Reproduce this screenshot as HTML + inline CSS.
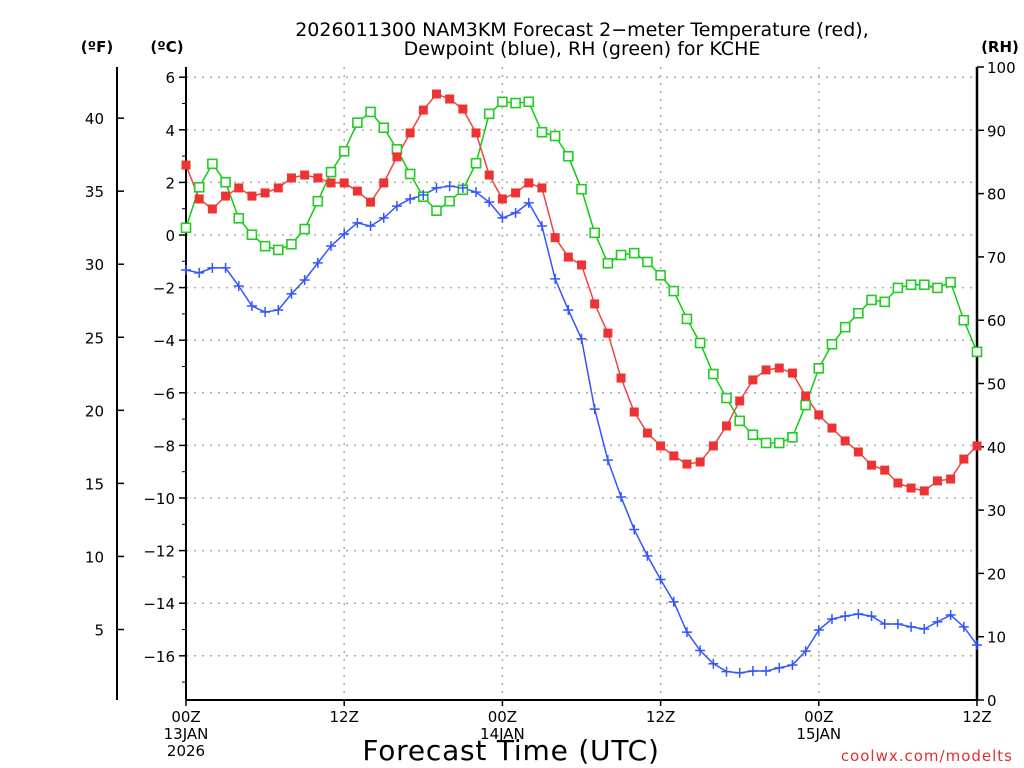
<!DOCTYPE html>
<html><head><meta charset="utf-8"><style>
html,body{margin:0;padding:0;background:#fff}
svg{display:block}
text{font-family:"DejaVu Sans","Liberation Sans",sans-serif;fill:#000}
</style></head><body>
<svg id="chart" width="1024" height="768" viewBox="0 0 1024 768" xmlns="http://www.w3.org/2000/svg">
<g id="grid"></g>
<g id="axes"></g>
<g id="series"></g>
<text x="582" y="36" text-anchor="middle" font-size="19">2026011300 NAM3KM Forecast 2−meter Temperature (red),</text>
<text x="582" y="55" text-anchor="middle" font-size="19">Dewpoint (blue), RH (green) for KCHE</text>
<text x="97" y="52" text-anchor="middle" font-size="15" font-weight="bold">(ºF)</text>
<text x="167" y="52" text-anchor="middle" font-size="15" font-weight="bold">(ºC)</text>
<text x="1000" y="52" text-anchor="middle" font-size="15" font-weight="bold">(RH)</text>
<text x="511" y="760" text-anchor="middle" font-size="28" letter-spacing="0.8">Forecast Time (UTC)</text>
<text x="1013" y="761" text-anchor="end" font-size="15" fill="#e03030" style="fill:#e03030" letter-spacing="1">coolwx.com/modelts</text>
</svg>
<script>
const hours = [];
for (let i = 0; i <= 60; i++) hours.push(i);
const tempC = [2.66,1.37,0.99,1.48,1.79,1.48,1.6,1.79,2.17,2.28,2.17,1.98,1.98,1.67,1.25,1.98,2.97,3.88,4.75,5.36,5.17,4.79,3.88,2.28,1.37,1.6,1.98,1.79,-0.1,-0.84,-1.14,-2.62,-3.73,-5.44,-6.73,-7.53,-8.02,-8.4,-8.71,-8.63,-8.02,-7.26,-6.31,-5.51,-5.13,-5.06,-5.25,-6.12,-6.84,-7.34,-7.83,-8.25,-8.75,-8.94,-9.43,-9.62,-9.73,-9.35,-9.28,-8.52,-8.02];
const dewC = [-1.33,-1.44,-1.25,-1.25,-1.94,-2.7,-2.93,-2.85,-2.24,-1.71,-1.06,-0.42,0.04,0.46,0.34,0.65,1.1,1.37,1.52,1.79,1.86,1.79,1.63,1.25,0.65,0.84,1.22,0.34,-1.67,-2.85,-3.95,-6.62,-8.56,-9.96,-11.2,-12.2,-13.1,-13.95,-15.1,-15.8,-16.3,-16.6,-16.65,-16.58,-16.58,-16.46,-16.35,-15.82,-15.02,-14.6,-14.49,-14.41,-14.49,-14.79,-14.79,-14.9,-14.98,-14.71,-14.45,-14.9,-15.59];
const rh = [74.6,81,84.7,81.8,76.1,73.5,71.7,71.1,72,74.4,78.8,83.4,86.7,91.2,92.9,90.4,87,83.1,79.5,77.3,78.8,80.6,84.8,92.6,94.5,94.3,94.5,89.7,89.1,85.9,80.7,73.8,69,70.3,70.6,69.2,67.1,64.6,60.2,56.4,51.5,47.7,44.1,41.9,40.6,40.6,41.5,46.6,52.4,56.2,58.9,61.1,63.2,62.9,65.1,65.6,65.6,65.1,66,60,55];
const cTicks = [6,4,2,0,-2,-4,-6,-8,-10,-12,-14,-16];
const fTicks = [40,35,30,25,20,15,10,5];
const rhTicks = [0,10,20,30,40,50,60,70,80,90,100];
const xTickHours = [0,12,24,36,48,60];
const xTickLabels = [["00Z","13JAN","2026"],["12Z"],["00Z","14JAN"],["12Z"],["00Z","15JAN"],["12Z"]];

const X0=186, X1=977, YT=67, YB=700;
const xS = h => X0 + (h/60)*(X1-X0);
const yC = c => 235 - c*26.3;
const yF = f => yC((f-32)*5/9);
const yR = r => YB - r*(YB-YT)/100;
const NS='http://www.w3.org/2000/svg';
function mk(tag, attrs, parent){const e=document.createElementNS(NS,tag);for(const k in attrs)e.setAttribute(k,attrs[k]);parent.appendChild(e);return e;}
const grid=document.getElementById('grid'), axes=document.getElementById('axes'), series=document.getElementById('series');

cTicks.forEach(c=>{
  const l=mk('line',{x1:X0,x2:X1,y1:yC(c),y2:yC(c),stroke:'#aaa','stroke-width':1.5,'stroke-dasharray':'2,6'},grid);
  
  
  const t=mk('line',{x1:X0-7,x2:X0,y1:yC(c),y2:yC(c),stroke:'#000','stroke-width':1.5},axes);
  
  
  const tx=mk('text',{x:X0-11,y:yC(c)+6,'text-anchor':'end','font-size':15},axes);
  
  
  tx.textContent=(c<0?'−':'')+Math.abs(c);
});
for(let c=-17;c<=6;c++){ if(c%2===0) continue;
  const t=mk('line',{x1:X0-4,x2:X0,y1:yC(c),y2:yC(c),stroke:'#000','stroke-width':1},axes);
  
  
}
xTickHours.forEach((h,i)=>{
  if(h>0&&h<60){const l=mk('line',{x1:xS(h),x2:xS(h),y1:YT,y2:YB,stroke:'#aaa','stroke-width':1.5,'stroke-dasharray':'2,6'},grid);
  
  }
  const t=mk('line',{x1:xS(h),x2:xS(h),y1:YB,y2:YB+6,stroke:'#000','stroke-width':1.5},axes);
  
  
  xTickLabels[i].forEach((s,j)=>{
    const tx=mk('text',{x:xS(h),y:YB+22+j*17,'text-anchor':'middle','font-size':15},axes);
    
    
    tx.textContent=s;
  });
});
fTicks.forEach(f=>{
  const t=mk('line',{x1:117,x2:124,y1:yF(f),y2:yF(f),stroke:'#000','stroke-width':1.5},axes);
  
  
  const tx=mk('text',{x:104,y:yF(f)+6,'text-anchor':'end','font-size':15},axes);
  
  
  tx.textContent=f;
});
rhTicks.forEach(r=>{
  const t=mk('line',{x1:X1,x2:X1+7,y1:yR(r),y2:yR(r),stroke:'#000','stroke-width':1.5},axes);
  
  
  const tx=mk('text',{x:X1+10,y:yR(r)+6,'font-size':15},axes);
  
  
  tx.textContent=r;
});
[[117,YT,117,YB,2],[X0,YT,X0,YB,2],[X0,YB,X1,YB,2],[X1,YT,X1,YB,2.5]].forEach(a=>{
  const l=mk('line',{x1:a[0],y1:a[1],x2:a[2],y2:a[3],stroke:'#000','stroke-width':a[4]},axes);
  
  
});

function line(vals, yf, color, name){
  const p=mk('polyline',{points:vals.map((v,i)=>xS(hours[i])+','+yf(v)).join(' '),fill:'none',stroke:color,'stroke-width':1.5},series);
  
  
}
line(rh,yR,'#11cc11','rh');
line(tempC,yC,'#ee4444','temperature');
line(dewC,yC,'#3355ff','dewpoint');
rh.forEach((v,i)=>{
  const m=mk('rect',{x:xS(hours[i])-4.5,y:yR(v)-4.5,width:9,height:9,fill:'#fff',stroke:'#22cc22','stroke-width':1.6},series);
  
  
});
tempC.forEach((v,i)=>{
  const m=mk('rect',{x:xS(hours[i])-4.5,y:yC(v)-4.5,width:9,height:9,fill:'#ee3333'},series);
  
  
});
dewC.forEach((v,i)=>{
  const x=xS(hours[i]), y=yC(v);
  const m=mk('path',{d:`M${x-5},${y}H${x+5}M${x},${y-5}V${y+5}`,stroke:'#3355ff','stroke-width':1.5},series);
  
  
});
</script>
</body></html>
